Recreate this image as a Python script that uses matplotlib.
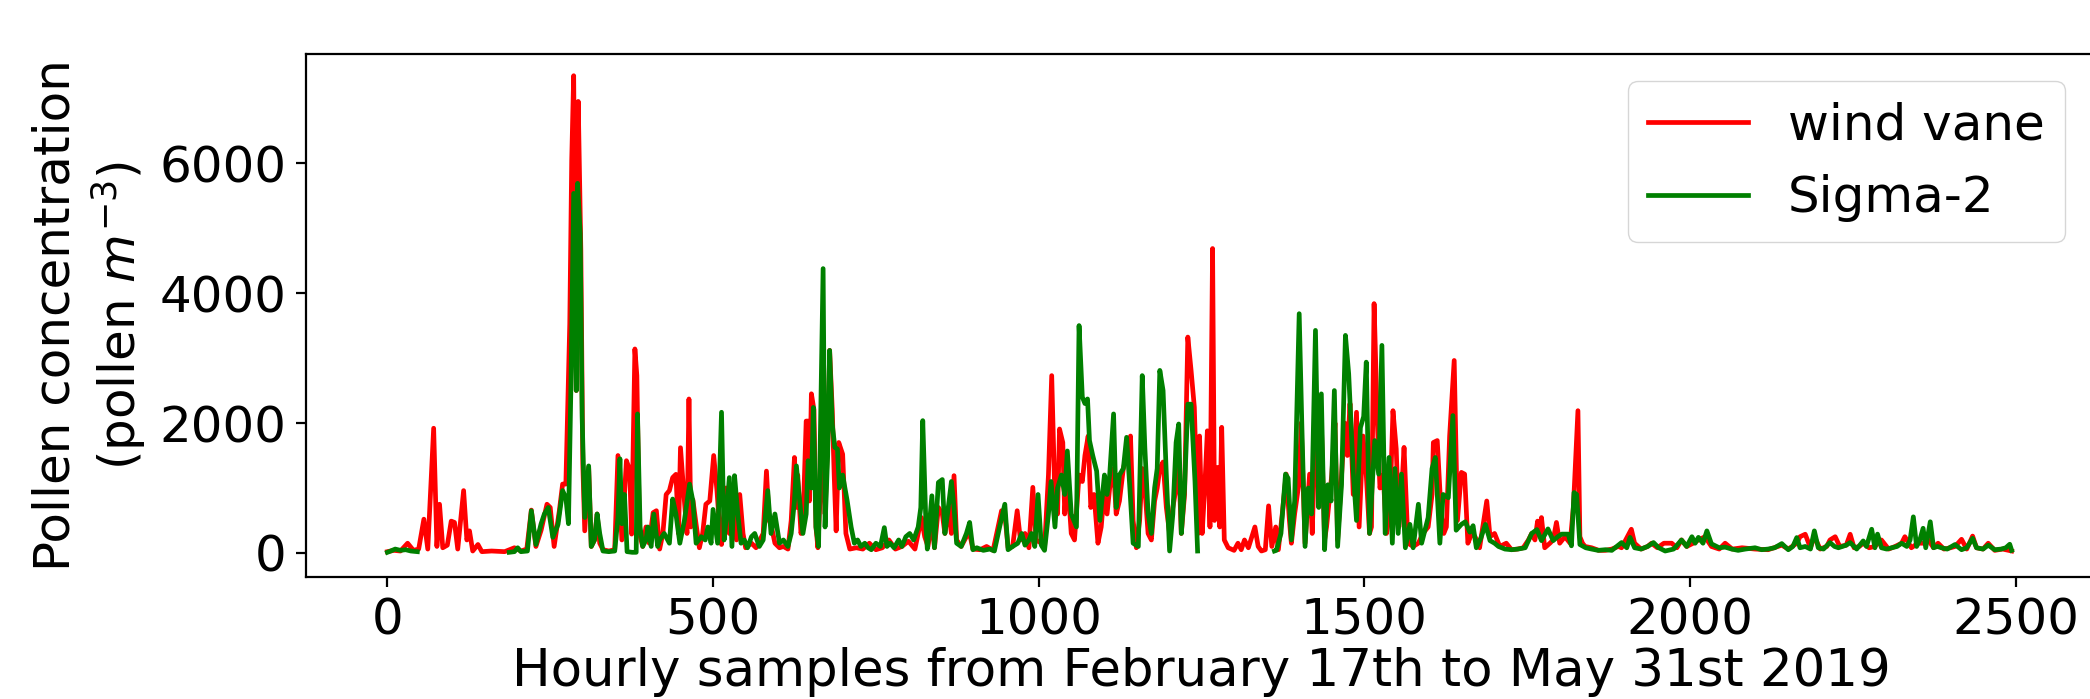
import numpy as np
import matplotlib
matplotlib.use("Agg")
import matplotlib.pyplot as plt

nan = np.nan

# wind vane series (hour index, concentration)
red_x = [0, 10, 20, 31, 40, 48, 56, 62, 71, 76, 80, 85, 92, 98, 103, 108, 117, 122, 126, 131,
         139, 145, 160, 180, 195, 205, 214, 221, 228, 236, 245, 250, 256, 264, 269, 274, 280, 283, 286, 290,
         293, 297, 300, 303, 309, 313, 318, 322, 326, 331, 340, 349, 354, 360, 364, 367, 372, 375, 380, 383,
         387, 392, 397, 402, 408, 413, 418, 423, 428, 433, 438, 443, 447, 450, 456, 460, 463, 466, 469, 474,
         479, 484, 489, 495, 501, 506, 510, 513, 520, 525, 530, 536, 541, 546, 550, 559, 566, 572, 577, 582,
         586, 589, 595, 602, 608, 615, 620, 625, 628, 630, 635, 638, 643, 646, 648, 651, 655, 658, 661, 665,
         669, 672, 677, 679, 683, 686, 689, 693, 699, 704, 710, 720, 730, 740, 750, 760, 770, 780, 790, 800,
         810, 820, 825, 830, 836, 840, 846, 852, 856, 861, 866, 870, 874, 881, 889, 894, 899, 910, 920, 930,
         943, 948, 953, 960, 967, 972, 979, 985, 991, 996, 1004, 1009, 1015, 1020, 1025, 1029, 1032, 1037, 1040, 1044,
         1050, 1055, 1062, 1067, 1071, 1076, 1080, 1085, 1091, 1096, 1101, 1105, 1109, 1115, 1119, 1124, 1130, 1135, 1141, 1145,
         1150, 1155, 1159, 1163, 1168, 1173, 1178, 1182, 1186, 1191, 1196, 1201, 1206, 1211, 1215, 1219, 1224, 1229, 1234, 1239,
         1242, 1245, 1247, 1251, 1255, 1259, 1263, 1267, 1270, 1275, 1278, 1281, 1285, 1291, 1300, 1306, 1311, 1316, 1322, 1332,
         1337, 1342, 1348, 1353, 1358, 1364, 1368, 1374, 1380, 1385, 1388, 1393, 1400, 1403, 1409, 1416, 1420, 1426, 1430, 1434,
         1439, 1442, 1450, 1455, 1459, 1462, 1470, 1474, 1478, 1483, 1488, 1492, 1498, 1503, 1508, 1511, 1515, 1520, 1524, 1529,
         1534, 1539, 1544, 1549, 1553, 1557, 1561, 1567, 1575, 1583, 1590, 1598, 1604, 1606, 1612, 1618, 1622, 1626, 1631, 1638,
         1643, 1649, 1654, 1659, 1665, 1670, 1677, 1688, 1693, 1700, 1708, 1718, 1726, 1735, 1744, 1752, 1757, 1762, 1766, 1769,
         1772, 1777, 1785, 1790, 1795, 1800, 1808, 1816, 1821, 1828, 1831, 1835, 1839, 1849, 1860, 1870, 1880, 1890, 1895, 1910,
         1915, 1925, 1935, 1941, 1950, 1960, 1972, 1980, 1987, 1995, 2005, 2013, 2023, 2033, 2045, 2054, 2065, 2080, 2100, 2120,
         2141, 2151, 2164, 2169, 2177, 2185, 2191, 2200, 2210, 2215, 2223, 2230, 2240, 2246, 2252, 2260, 2266, 2275, 2284, 2294,
         2305, 2315, 2325, 2330, 2340, 2350, 2358, 2366, 2374, 2381, 2390, 2400, 2407, 2417, 2425, 2434, 2440, 2450, 2458, 2468,
         2480, 2494]
red_y = [20, 40, 30, 150, 40, 60, 520, 60, 1920, 100, 750, 80, 120, 490, 470, 60, 960, 200, 340, 30,
         130, 20, 30, 20, 80, 30, 60, 660, 100, 350, 750, 700, 100, 650, 1060, 1060, 3530, 6050, 7346, 2500,
         6950, 4660, 1370, 340, 1320, 100, 200, 600, 150, 50, 30, 50, 1500, 200, 900, 1420, 1280, 290, 3140, 2730,
         300, 100, 400, 150, 620, 650, 60, 300, 900, 960, 1160, 1210, 300, 1620, 800, 300, 2370, 400, 820, 440,
         80, 300, 750, 800, 1500, 960, 400, 130, 1000, 300, 800, 200, 900, 300, 80, 150, 80, 200, 300, 1260,
         500, 440, 150, 80, 100, 60, 500, 1470, 700, 1200, 300, 440, 2030, 2030, 800, 2450, 2200, 400, 80, 1000,
         1500, 600, 2000, 3118, 2217, 1200, 340, 1700, 1520, 300, 60, 80, 60, 150, 50, 80, 200, 60, 100, 180,
         60, 545, 250, 100, 500, 80, 700, 600, 300, 700, 300, 1190, 200, 100, 250, 300, 60, 50, 100, 40,
         650, 600, 80, 100, 650, 200, 300, 80, 1010, 200, 150, 80, 1200, 2730, 800, 600, 1908, 1700, 600, 1200,
         300, 200, 1200, 1100, 1500, 1800, 700, 900, 150, 400, 1000, 600, 1000, 1300, 600, 800, 1300, 1500, 1800, 500,
         80, 500, 1300, 1000, 300, 200, 800, 1000, 1300, 1400, 700, 300, 700, 1000, 1400, 300, 900, 3323, 2810, 2243,
         1200, 300, 1800, 300, 1000, 1880, 400, 4686, 500, 1317, 400, 1934, 200, 80, 40, 150, 50, 200, 80, 400,
         100, 30, 50, 725, 100, 400, 50, 600, 1214, 500, 150, 600, 1100, 2000, 150, 1214, 300, 2300, 800, 2000,
         200, 400, 1200, 2000, 200, 700, 2000, 1500, 2300, 900, 2166, 400, 1800, 1200, 300, 400, 3838, 2000, 1000, 1200,
         300, 600, 2190, 1600, 400, 900, 1625, 150, 100, 150, 300, 400, 900, 1700, 1730, 600, 300, 400, 1800, 2963,
         500, 1240, 1214, 150, 300, 250, 80, 800, 250, 300, 100, 150, 50, 60, 80, 200, 300, 200, 490, 300,
         545, 80, 150, 200, 470, 150, 250, 150, 700, 2190, 250, 150, 100, 80, 40, 40, 60, 100, 80, 365,
         150, 60, 100, 150, 80, 150, 150, 80, 200, 100, 150, 200, 250, 100, 60, 150, 60, 80, 60, 50,
         120, 60, 150, 250, 288, 80, 250, 60, 100, 200, 250, 100, 120, 288, 80, 100, 150, 80, 100, 200,
         60, 100, 150, 250, 80, 150, 150, 200, 80, 150, 60, 80, 100, 210, 60, 260, 80, 60, 150, 40,
         60, 30]

# Sigma-2 series (NaN = missing data)
green_x = [0, 5, 12, 20, 28, 36, 46, 47, 187, 195, 200, 205, 215, 221, 228, 236, 241, 247, 254, 262,
           269, 274, 278, 282, 286, 290, 292, 296, 299, 303, 309, 313, 318, 322, 326, 331, 340, 349, 354, 357,
           360, 364, 368, 376, 382, 384, 388, 392, 397, 400, 405, 409, 415, 418, 425, 433, 438, 443, 449, 456,
           464, 469, 474, 482, 488, 492, 497, 500, 507, 513, 517, 520, 525, 529, 533, 538, 543, 548, 553, 559,
           564, 571, 577, 584, 589, 595, 602, 608, 615, 620, 625, 628, 633, 638, 643, 646, 651, 654, 658, 662,
           669, 672, 676, 679, 683, 687, 691, 694, 699, 706, 712, 717, 722, 727, 733, 738, 743, 750, 757, 763,
           767, 772, 778, 785, 790, 796, 802, 808, 815, 819, 822, 827, 829, 836, 840, 846, 852, 856, 860, 866,
           870, 874, 881, 889, 894, 899, 905, 915, 925, 932, 940, 948, 953, 960, 968, 974, 979, 985, 989, 994,
           999, 1004, 1009, 1015, 1019, 1025, 1029, 1035, 1040, 1044, 1050, 1058, 1062, 1067, 1071, 1075, 1078, 1083, 1089, 1094,
           1101, 1105, 1109, 1115, 1119, 1124, 1130, 1135, 1140, 1145, 1153, 1159, 1163, 1168, 1173, 1178, 1182, 1186, 1191, 1196,
           1201, 1206, 1211, 1215, 1219, 1224, 1229, 1234, 1240, 1244, 1246, 1362, 1365, 1372, 1379, 1383, 1388, 1393, 1400, 1404,
           1409, 1414, 1419, 1425, 1430, 1434, 1439, 1444, 1449, 1454, 1459, 1465, 1471, 1476, 1483, 1488, 1494, 1499, 1503, 1508,
           1516, 1522, 1527, 1532, 1538, 1543, 1547, 1552, 1557, 1563, 1570, 1575, 1583, 1588, 1598, 1604, 1609, 1616, 1621, 1629,
           1636, 1641, 1649, 1655, 1662, 1667, 1672, 1679, 1686, 1693, 1700, 1706, 1716, 1726, 1736, 1747, 1757, 1765, 1772, 1782,
           1790, 1797, 1803, 1813, 1818, 1822, 1826, 1831, 1840, 1849, 1859, 1870, 1880, 1895, 1903, 1908, 1915, 1925, 1935, 1944,
           1952, 1962, 1975, 1987, 1995, 2003, 2008, 2013, 2020, 2026, 2033, 2045, 2054, 2064, 2074, 2085, 2100, 2110, 2120, 2130,
           2141, 2151, 2158, 2164, 2169, 2177, 2185, 2191, 2197, 2205, 2215, 2222, 2228, 2240, 2246, 2256, 2266, 2271, 2279, 2284,
           2288, 2294, 2302, 2310, 2318, 2325, 2333, 2338, 2343, 2348, 2353, 2358, 2362, 2369, 2374, 2380, 2386, 2395, 2407, 2417,
           2425, 2434, 2440, 2450, 2458, 2468, 2478, 2485, 2491, 2494]
green_y = [10, 30, 60, 40, 50, 30, 20, nan, 10, 20, 80, 20, 30, 650, 130, 450, 600, 700, 240, 440,
           960, 850, 450, 2700, 5535, 2500, 5690, 4918, 2090, 545, 1340, 100, 200, 600, 300, 30, 20, 30, 545, 1450,
           450, 900, 20, 10, 10, 2140, 400, 100, 200, 400, 100, 600, 100, 200, 300, 150, 830, 600, 150, 500,
           1060, 800, 150, 250, 200, 400, 150, 670, 150, 2166, 200, 500, 1160, 100, 1190, 600, 150, 200, 80, 250,
           300, 100, 200, 960, 300, 600, 150, 200, 100, 300, 800, 1340, 800, 300, 600, 1420, 1000, 2240, 400, 100,
           4377, 400, 1500, 3118, 1986, 1625, 1600, 1000, 1200, 800, 400, 150, 200, 100, 150, 80, 50, 150, 100, 390,
           100, 150, 80, 200, 100, 250, 300, 200, 400, 700, 2037, 400, 60, 880, 80, 1085, 1130, 300, 600, 1100,
           700, 150, 100, 300, 470, 50, 80, 40, 60, 30, 400, 750, 50, 100, 150, 300, 120, 200, 300, 100,
           900, 120, 40, 600, 1100, 400, 1000, 1200, 900, 1570, 600, 400, 3500, 2400, 2300, 2370, 1730, 1500, 1260, 500,
           1200, 900, 1200, 2140, 700, 1200, 1300, 1780, 1000, 150, 100, 2730, 1625, 600, 300, 1000, 1300, 2810, 2500, 1200,
           30, 600, 1700, 1985, 300, 1000, 2290, 2290, 1100, 30, nan, 30, 40, 300, 1214, 1150, 200, 800, 3683, 2000,
           100, 1000, 600, 3426, 700, 2449, 50, 1050, 800, 2500, 100, 1050, 3349, 2757, 1250, 500, 1930, 2100, 2937, 300,
           1730, 1214, 3195, 300, 1470, 150, 1300, 300, 1214, 80, 440, 80, 750, 150, 545, 1300, 1470, 150, 900, 850,
           2115, 350, 440, 480, 320, 420, 80, 230, 440, 190, 150, 100, 60, 50, 60, 80, 300, 360, 190, 370,
           190, 250, 290, 290, 110, 930, 900, 130, 80, 60, 40, 50, 40, 160, 80, 240, 80, 60, 100, 160,
           80, 30, 60, 200, 100, 250, 150, 240, 150, 340, 140, 80, 90, 60, 40, 60, 80, 50, 60, 80,
           144, 50, 100, 237, 80, 100, 60, 340, 80, 60, 160, 100, 80, 120, 160, 60, 185, 100, 365, 80,
           290, 80, 60, 80, 100, 150, 100, 200, 556, 100, 200, 380, 80, 480, 80, 100, 80, 60, 130, 50,
           80, 226, 80, 60, 120, 50, 60, 80, 134, 40]

x_ticks = [0, 500, 1000, 1500, 2000, 2500]
y_ticks = [0, 2000, 4000, 6000]

FS = 36

fig = plt.figure(figsize=(20.9, 6.99), dpi=100)
ax = fig.add_axes([306 / 2090, (699 - 577) / 699, (2097 - 306) / 2090, (577 - 54) / 699])

ax.plot(red_x, red_y, color="red", linewidth=3.4, label="wind vane")
ax.plot(green_x, green_y, color="green", linewidth=3.4, label="Sigma-2")

ax.set_xlim(-125, 2625)
ax.set_ylim(-370, 7680)
ax.set_xticks(x_ticks)
ax.set_yticks(y_ticks)
ax.tick_params(axis="both", labelsize=FS, length=7, width=1.6, pad=7)
for s in ax.spines.values():
    s.set_linewidth(1.6)

ax.set_xlabel("Hourly samples from February 17th to May 31st 2019", fontsize=37, labelpad=2)
ax.set_ylabel("Pollen concentration\n(pollen $m^{-3}$)", fontsize=FS, labelpad=8)

leg = ax.legend(loc="upper right", fontsize=FS, bbox_to_anchor=(0.996, 0.996))

fig.savefig("out.png", dpi=100)
